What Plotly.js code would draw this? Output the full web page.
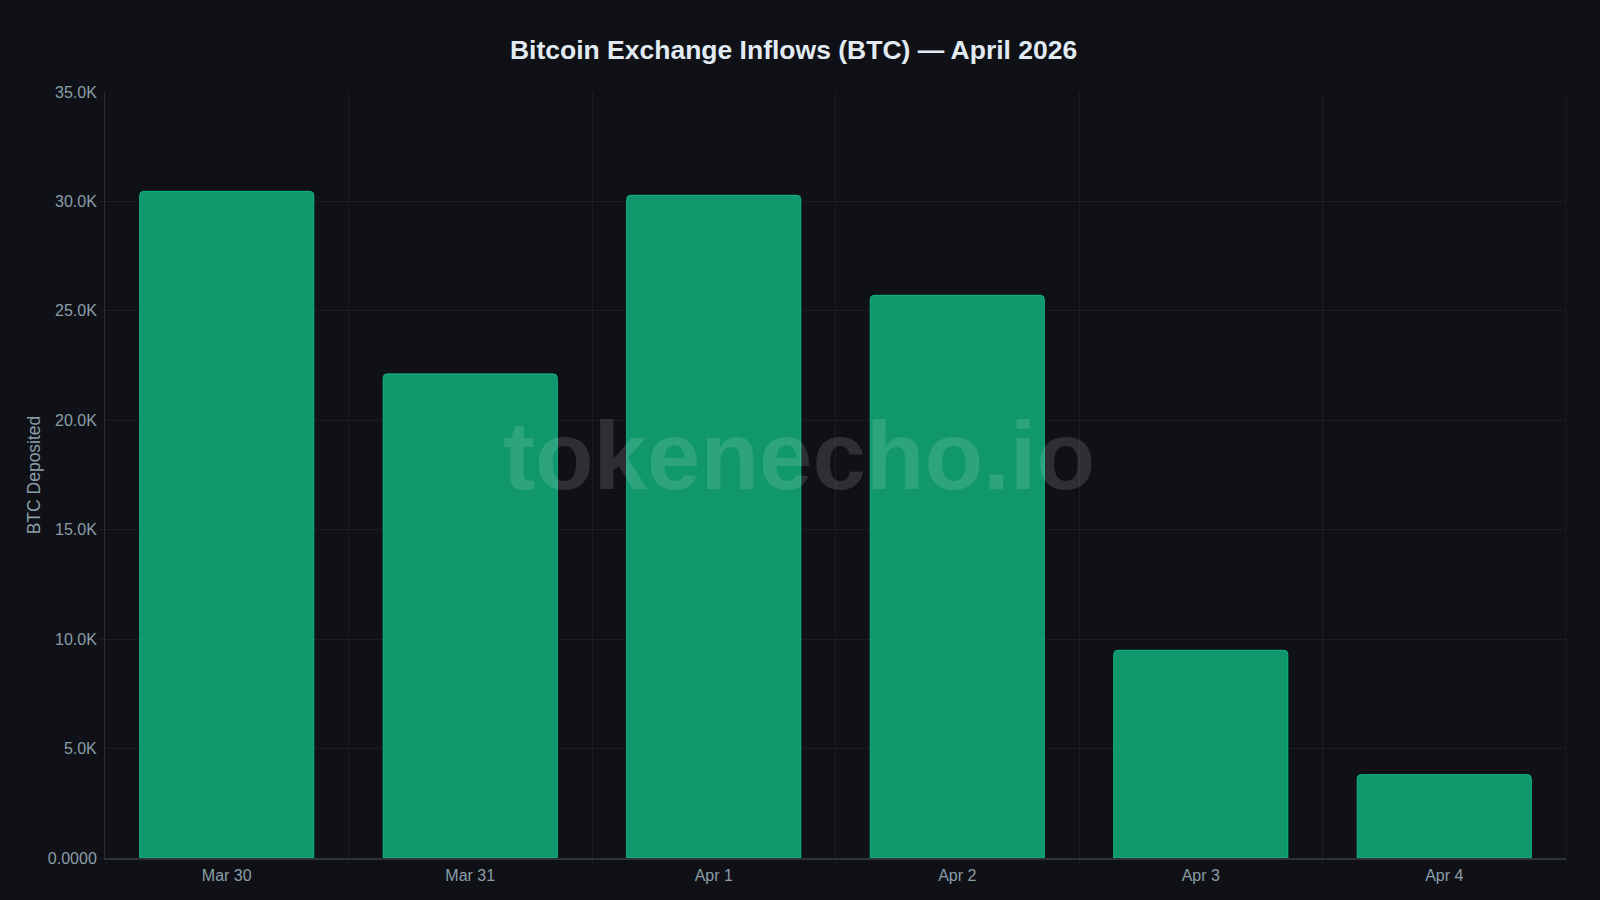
<!DOCTYPE html>
<html><head><meta charset="utf-8">
<script src="https://cdn.plot.ly/plotly-3.0.1.min.js"></script>
<style>html,body{margin:0;padding:0;background:#0f1117;overflow:hidden}#c{width:1600px;height:900px}</style>
</head><body><div id="c"></div>
<script>
const categories = ["Mar 30","Mar 31","Apr 1","Apr 2","Apr 3","Apr 4"];
const inflows = [30460,22120,30280,25710,9490,3810];
const tickVals = [0,5000,10000,15000,20000,25000,30000,35000];
const tickLabels = ["0.0000","5.0K","10.0K","15.0K","20.0K","25.0K","30.0K","35.0K"];
const FONT = '"Liberation Sans", Arial, sans-serif';
const grid = 'rgba(255,255,255,0.05)';
const label = '#8b9ea8';
Plotly.newPlot('c',[{
  type:'bar',x:categories,y:inflows,
  marker:{color:'rgba(16,185,129,0.8)',line:{color:'#10b981',width:1},cornerradius:4},
  hoverinfo:'x+y'
}],{
  width:1600,height:900,
  paper_bgcolor:'#0f1117',plot_bgcolor:'#0f1117',
  margin:{l:104.5,r:34,t:91.7,b:42.3},
  bargap:0.285,showlegend:false,
  font:{family:FONT,color:label,size:14},
  title:{text:'<b>Bitcoin Exchange Inflows (BTC) — April 2026</b>',x:0.496,xanchor:'center',y:0.945,yanchor:'middle',
    font:{family:FONT,size:26.5,color:'#e2eaf2'}},
  xaxis:{type:'category',tickson:'boundaries',ticks:'outside',ticklen:5,tickcolor:grid,
    showgrid:true,gridcolor:grid,gridwidth:1,zeroline:false,
    showline:true,linecolor:'#2e3338',linewidth:2,mirror:false,ticklabelstandoff:2,
    tickfont:{family:FONT,size:16,color:label}},
  yaxis:{range:[0,35000],tickmode:'array',tickvals:tickVals,ticktext:tickLabels,
    ticks:'outside',ticklen:4,tickcolor:grid,showgrid:true,gridcolor:grid,gridwidth:1,
    zeroline:false,showline:true,linecolor:'rgba(255,255,255,0.12)',linewidth:1,
    tickfont:{family:FONT,size:16,color:label},
    title:{text:'BTC Deposited',standoff:2,font:{family:FONT,size:17.5,color:label}}},
  annotations:[{text:'<b>tokenecho.io</b>',xref:'paper',yref:'paper',x:0.4748,y:0.5255,
    xanchor:'center',yanchor:'middle',showarrow:false,
    font:{family:FONT,size:96,color:'rgba(255,255,255,0.13)'}}],
  shapes:[{type:'line',xref:'paper',yref:'paper',x0:1,x1:1,y0:0,y1:1,line:{color:grid,width:1}}]
},{displayModeBar:false});
</script></body></html>
